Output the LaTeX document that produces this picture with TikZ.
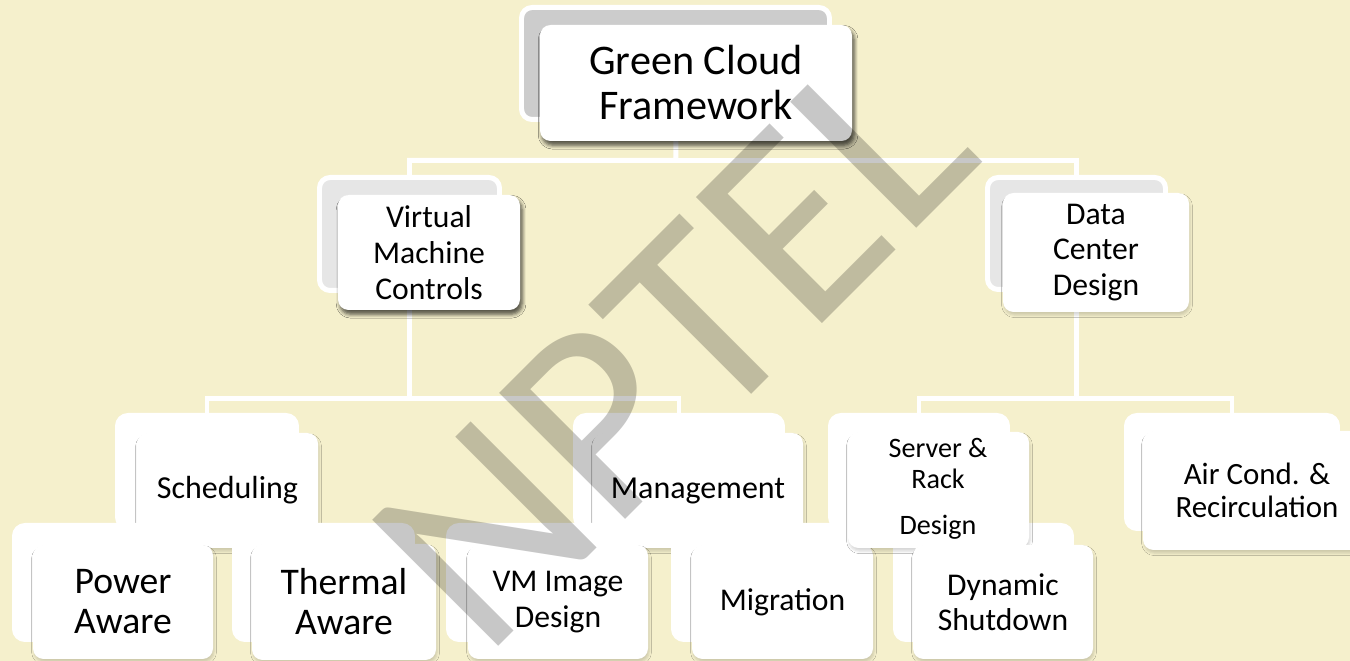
\documentclass[tikz,border=0pt]{standalone}
\usepackage{fontspec}
\setmainfont{Carlito}
\usetikzlibrary{shadows.blur}
\definecolor{cream}{RGB}{245,240,204}
\definecolor{backA}{RGB}{204,204,204}
\definecolor{backB}{RGB}{230,230,230}
\tikzset{
  conn/.style={draw=white, line width=1.42pt},
  sz/.style 2 args={minimum width=#1*0.01cm, minimum height=#2*0.01cm},
  backbox/.style={rounded corners=3pt, fill=white, draw=white, line width=1.42pt, inner sep=0pt, outer sep=0pt},
  frontbox/.style={rounded corners=3pt, fill=white, inner sep=0pt, outer sep=0pt, align=center,
    blur shadow={shadow xshift=0.3pt, shadow yshift=-0.9pt, shadow blur radius=0.7pt, shadow opacity=16}},
  topfront/.style={frontbox, blur shadow={shadow xshift=0.6pt, shadow yshift=-1.2pt, shadow blur radius=1.1pt, shadow opacity=40}},
  fA/.style={font=\fontsize{12pt}{12.8pt}\selectfont},
  fB/.style={font=\fontsize{9pt}{10.2pt}\selectfont},
  fS/.style={font=\fontsize{9.1pt}{10.2pt}\selectfont},
  fC/.style={font=\fontsize{10.7pt}{11.4pt}\selectfont},
  fD/.style={font=\fontsize{9pt}{10pt}\selectfont},
  fE/.style={font=\fontsize{8pt}{8.8pt}\selectfont},
  fF/.style={font=\fontsize{8.8pt}{9.4pt}\selectfont},
}
\begin{document}
\begin{tikzpicture}[x=0.01cm,y=-0.01cm]
\fill[cream] (0,0) rectangle (1350,661);
\useasboundingbox (0,0) rectangle (1350,661);

\coordinate (j1) at (676,160.5);
\coordinate (j2) at (409.5,398.5);
\coordinate (j3) at (1076.5,398.5);
\coordinate (topc) at (675.5,63.5);
\coordinate (vmc) at (409.5,234);
\coordinate (dcc) at (1076.5,233.5);
\coordinate (schc) at (207,471.5);
\coordinate (mgc) at (679,471.5);
\coordinate (src) at (919,471.5);
\coordinate (airc) at (1232,472);

% connectors
\draw[conn] (topc) -- (j1) -| (vmc);
\draw[conn] (j1) -| (dcc);
\draw[conn] (vmc) -- (j2) -| (schc);
\draw[conn] (j2) -| (mgc);
\draw[conn] (dcc) -- (j3) -| (src);
\draw[conn] (j3) -| (airc);

% level 1
\node[backbox, fill=backA, sz={308}{112}] (topback) at (topc) {};
\node[topfront, fA, sz={312}{116}] (top) at (696,83) {Green Cloud\\Framework};

% level 2
\node[backbox, fill=backB, sz={180}{113}] (vmback) at (vmc) {};
\node[topfront, fB, sz={182}{115}] (vm) at (429,252.5) {Virtual\\Machine\\Controls};
\node[backbox, fill=backB, sz={178}{112}] (dcback) at (dcc) {};
\node[frontbox, fB, sz={186}{119}] (dc) at (1096,252.5) {Data\\Center\\Design};

% level 3
\node[backbox, sz={179}{112}] (schback) at (schc) {};
\node[frontbox, fS, sz={181}{115}] (sch) at (227.5,490.5) {Scheduling};
\node[backbox, sz={207}{112}] (mgback) at (mgc) {};
\node[frontbox, fS, sz={210}{115}] (mg) at (698,490.5) {Management};
\node[backbox, sz={211}{113}] (airback) at (airc) {};
\node[frontbox, fF, sz={228}{119}] (air) at (1257,490.5) {Air Cond. \&\\Recirculation};

% level 4
\node[backbox, sz={177}{114}] (pwback) at (103,582.5) {};
\node[frontbox, fC, sz={180}{114}] (pw) at (123,602) {Power\\Aware};
\node[backbox, sz={178}{114}] (thback) at (323.5,582.5) {};
\node[frontbox, fC, sz={184}{116}] (th) at (344,602) {Thermal\\Aware};
\node[backbox, sz={177}{114}] (vmiback) at (537,582.5) {};
\node[frontbox, fD, sz={180}{114}] (vmi) at (558,602) {VM Image\\Design};
\node[backbox, sz={176}{114}] (migback) at (761.5,582.5) {};
\node[frontbox, fD, sz={181}{114}] (mig) at (782.5,602) {Migration};
\node[backbox, sz={176}{114}] (dynback) at (983.5,582.5) {};
\node[backbox, sz={177}{112}] (srback) at (src) {};
\node[frontbox, sz={181}{116}] (sr) at (938.5,490) {};
\node[frontbox, fD, sz={180}{114}] (dyn) at (1003,602) {Dynamic\\Shutdown};
\node[fE, align=center, inner sep=0pt] (srtext) at (938,489) {Server \&\\Rack\\[4.2pt]Design};

% watermark
\node[font=\fontsize{79pt}{79pt}\selectfont, rotate=45, opacity=0.22, inner sep=0pt] (wm) at (672.5,347) {NPTEL};
\end{tikzpicture}
\end{document}
